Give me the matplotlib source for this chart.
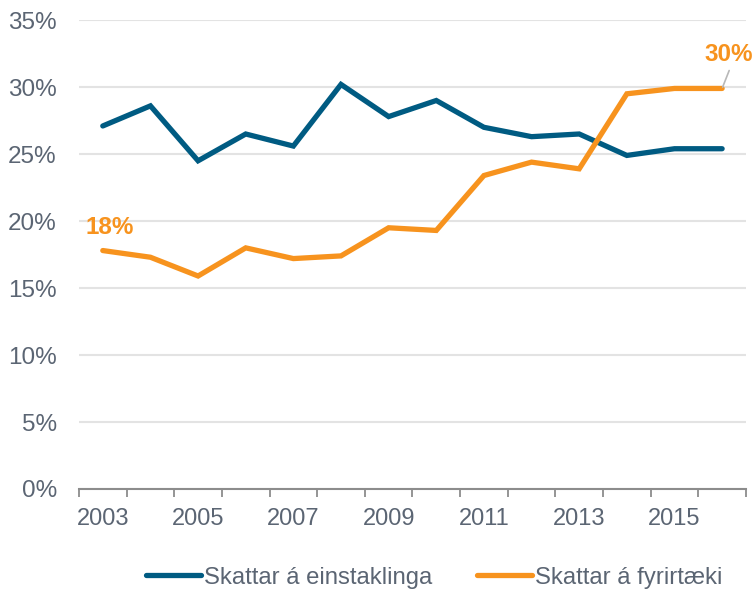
import matplotlib
matplotlib.use("Agg")
import matplotlib.pyplot as plt
from matplotlib.ticker import FuncFormatter, FixedLocator

plt.rcParams['font.family'] = ['Liberation Sans', 'DejaVu Sans']

years = list(range(2003, 2017))
einstaklinga = [27.1, 28.6, 24.5, 26.5, 25.6, 30.2, 27.8, 29.0, 27.0, 26.3, 26.5, 24.9, 25.4, 25.4]
fyrirtaeki = [17.8, 17.3, 15.9, 18.0, 17.2, 17.4, 19.5, 19.3, 23.4, 24.4, 23.9, 29.5, 29.9, 29.9]

blue = "#005b82"
orange = "#f7931e"
grey_txt = "#5b6573"

fig = plt.figure(figsize=(7.55, 5.92), dpi=100)
ax = fig.add_axes([0.1046, 0.174, 0.8834, 0.792])

x = list(range(len(years)))
ax.plot(x, einstaklinga, color=blue, lw=3.8, solid_capstyle='round', solid_joinstyle='miter',
        label="Skattar á einstaklinga")
ax.plot(x, fyrirtaeki, color=orange, lw=3.8, solid_capstyle='round', solid_joinstyle='miter',
        label="Skattar á fyrirtæki")

ax.set_xlim(-0.5, len(years) - 0.5)
ax.set_ylim(0, 35)
ax.set_yticks(range(0, 36, 5))
ax.yaxis.set_major_formatter(FuncFormatter(lambda v, p: f"{v:.0f}%"))

ax.set_xticks(x[::2])
ax.set_xticklabels([str(y) for y in years[::2]])
ax.xaxis.set_minor_locator(FixedLocator([i - 0.5 for i in range(len(years) + 1)]))

ax.tick_params(axis='x', which='major', length=0, pad=14, labelsize=17, labelcolor=grey_txt)
ax.tick_params(axis='x', which='minor', length=6, width=1.3, color="#8c8c8c", direction='out')
ax.tick_params(axis='y', length=0, pad=16, labelsize=17.5, labelcolor=grey_txt)

ax.grid(axis='y', color="#e3e3e3", lw=1.5)
ax.set_axisbelow(True)
for s in ['top', 'right', 'left']:
    ax.spines[s].set_visible(False)
ax.spines['bottom'].set_color("#8c8c8c")
ax.spines['bottom'].set_linewidth(1.5)

# value labels
ax.annotate(f"{fyrirtaeki[0]:.0f}%", xy=(x[0], fyrirtaeki[0]), xytext=(-0.37, 19.5),
            color=orange, fontsize=17.5, fontweight='bold', ha='left', va='center')
ax.annotate(f"{fyrirtaeki[-1]:.0f}%", xy=(x[-1], fyrirtaeki[-1]), xytext=(13.64, 32.4),
            color=orange, fontsize=17.5, fontweight='bold', ha='right', va='center',
            arrowprops=dict(arrowstyle='-', color="#b8b8b8", lw=1.2, relpos=(0.55, 0),
                            shrinkA=1, shrinkB=1))

fig.legend(loc='center', bbox_to_anchor=(0.575, 0.024), ncol=2, frameon=False,
           fontsize=17.2, handlelength=2.3, handletextpad=0.1, columnspacing=1.9,
           labelcolor=grey_txt)

fig.savefig("out.png", dpi=100)
